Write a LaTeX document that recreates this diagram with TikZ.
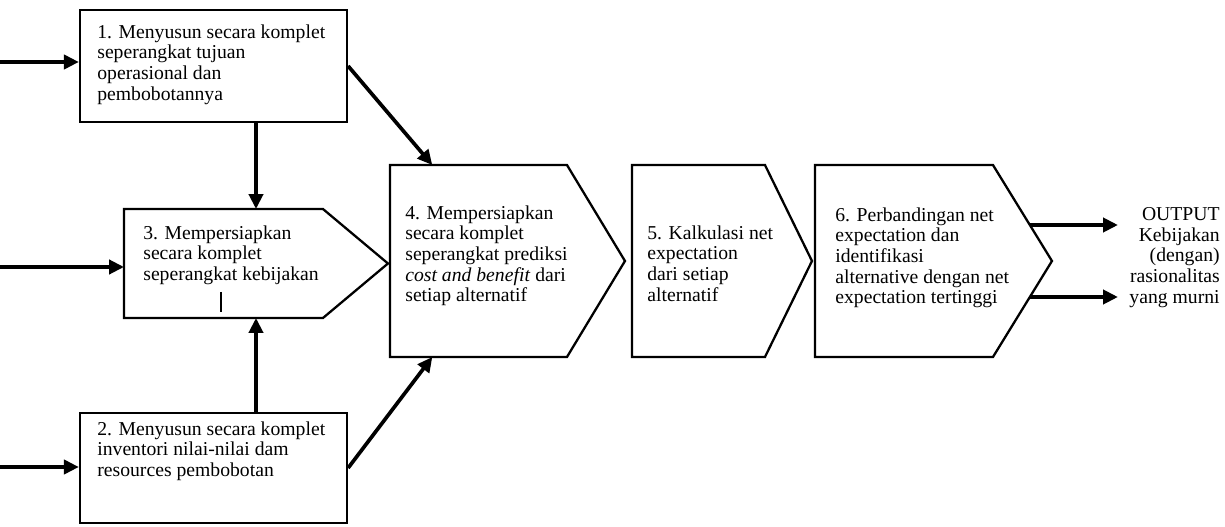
\documentclass[tikz,border=0pt]{standalone}
\usepackage{fontspec}
\setmainfont{Liberation Serif}
\setlength{\parindent}{0pt}
\usetikzlibrary{arrows.meta, positioning, calc}
\tikzset{
  % kotak persegi biasa
  kotak/.style={rectangle, draw=black, line width=1.3pt, inner sep=0pt},
  % dasar kotak panah (garis tepinya digambar sendiri)
  dasar/.style={rectangle, inner sep=0pt, outer sep=0pt},
  tepi/.style={draw=black, line width=1.3pt, line join=miter},
  teks/.style={anchor=north west, inner sep=0pt, align=left,
               font=\fontsize{11.2}{11.8}\selectfont},
  ar/.style={-{Triangle[length=8.5pt, width=8pt]}, line width=2.1pt, draw=black}
}

\begin{document}
\begin{tikzpicture}[x=0.02cm, y=-0.02cm]
  \useasboundingbox (0,0) rectangle (1225,527);

  % --- kotak kiri ---
  \node[kotak, minimum width=5.34cm, minimum height=2.24cm] (k1) at (213.5,66) {};
  \node[kotak, minimum width=5.34cm, minimum height=2.2cm] (k2) at (213.5,468) {};

  % --- kotak panah ---
  \node[dasar, minimum width=5.28cm, minimum height=2.18cm] (k3) at (256,263.5) {};
  \node[dasar, minimum width=4.7cm, minimum height=3.84cm] (k4) at (507.5,261) {};
  \node[dasar, minimum width=3.6cm, minimum height=3.84cm] (k5) at (722,261) {};
  \node[dasar, minimum width=4.74cm, minimum height=3.84cm] (k6) at (933.5,261) {};
  \foreach \k/\d in {k3/65, k4/58, k5/47, k6/59}
    \draw[tepi] (\k.north west) -- ($(\k.north east)+(-\d,0)$) -- (\k.east)
      -- ($(\k.south east)+(-\d,0)$) -- (\k.south west) -- cycle;

  % --- isi teks ---
  \node[teks] (t1) at (97,24) {1. Menyusun secara komplet\\seperangkat tujuan\\operasional dan\\pembobotannya};
  \node[teks] (t2) at (97,421) {2. Menyusun secara komplet\\inventori nilai-nilai dam\\resources pembobotan};
  \node[teks] (t3) at (143,225) {3. Mempersiapkan\\secara komplet\\seperangkat kebijakan};
  \node[teks] (t4) at (405,205) {4. Mempersiapkan\\secara komplet\\seperangkat prediksi\\\textit{cost and benefit} dari\\setiap alternatif};
  \node[teks] (t5) at (647,225) {5. Kalkulasi net\\expectation\\dari setiap\\alternatif};
  \node[teks] (t6) at (835,207) {6. Perbandingan net\\expectation dan\\identifikasi\\alternative dengan net\\expectation tertinggi};
  \node[teks, anchor=north east, align=right] (hasil) at (1220,207) {OUTPUT\\Kebijakan\\(dengan)\\rasionalitas\\yang murni};

  % coretan kecil di kotak 3
  \draw[line width=1.2pt] ($(k3.south west)+(97,-26)$) -- ++(0,20);

  % --- masukan dari kiri ---
  \coordinate (in1) at (0,62);
  \coordinate (in3) at (0,267);
  \coordinate (in2) at (0,467);
  \draw[ar] (in1) -- (in1 -| k1.west);
  \draw[ar] (in3) -- (in3 -| k3.west);
  \draw[ar] (in2) -- (in2 -| k2.west);

  % --- antar kotak ---
  \draw[ar] (k3.north |- k1.south) -- (k3.north);
  \draw[ar] (k3.south |- k2.north) -- (k3.south);
  \draw[ar] (k1.east) -- ($(k4.north west)!0.18!(k4.north east)$);
  \draw[ar] (k2.east) -- ($(k4.south west)!0.18!(k4.south east)$);

  % --- keluaran ---
  \coordinate (o1) at ($(k6.east)+(-22,-36)$);
  \coordinate (o2) at ($(k6.east)+(-22,36)$);
  \draw[ar] (o1) -- ++(88,0);
  \draw[ar] (o2) -- ++(88,0);
\end{tikzpicture}
\end{document}
